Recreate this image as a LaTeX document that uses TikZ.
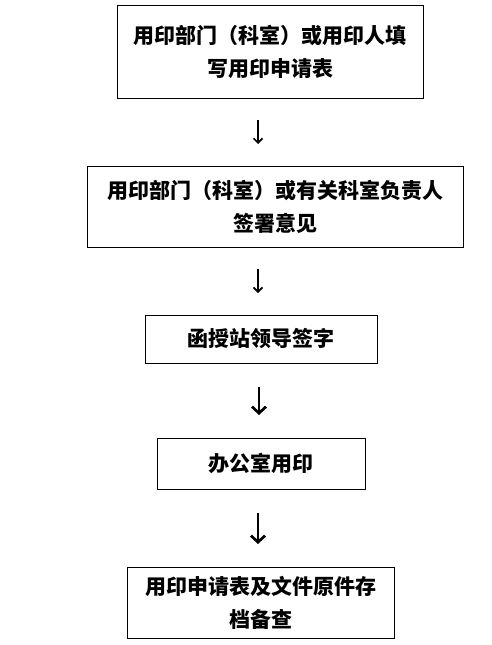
\documentclass[tikz,border=0pt]{standalone}
\usepackage{fontspec}
\newfontfamily\cjk{Noto Sans CJK SC}
\usetikzlibrary{arrows.meta, positioning}

\begin{document}
\begin{tikzpicture}[
    x=1pt, y=-1pt,
    stepbox/.style = {draw, line width=0.8pt, inner sep=0pt, align=center,
                font=\cjk\bfseries\fontsize{21}{33}\selectfont},
    thin arr/.style = {line width=1.7pt, -{Straight Barb[length=4.5pt, width=9pt]}},
    bold arr/.style = {line width=2.7pt, -{Straight Barb[length=6.5pt, width=14pt]}}
                    ]
\useasboundingbox (0,0) rectangle (492,645);

\node (n1) [stepbox, minimum width=306pt, minimum height=93pt] at (270,51.5)
    {用印部门（科室）或用印人填\\ 写用印申请表};
\node (n2) [stepbox, minimum width=376pt, minimum height=81pt] at (275,206.5)
    {用印部门（科室）或有关科室负责人\\ 签署意见};
\node (n3) [stepbox, minimum width=232pt, minimum height=48pt] at (261,339)
    {函授站领导签字};
\node (n4) [stepbox, minimum width=208pt, minimum height=51pt] at (261,463.5)
    {办公室用印};
\node (n5) [stepbox, minimum width=267pt, minimum height=71pt] at (260.5,602.5)
    {用印申请表及文件原件存\\ 档备查};

%arrows stand free between the boxes
\coordinate (a1) at (258,120);  \coordinate (a1e) at (258,144);
\coordinate (a2) at (258,269);  \coordinate (a2e) at (258,293);
\coordinate (a3) at (259,387);  \coordinate (a3e) at (259,415);
\coordinate (a4) at (258,513);  \coordinate (a4e) at (258,544);

\draw[thin arr] (a1) -- (a1e);
\draw[thin arr] (a2) -- (a2e);
\draw[bold arr] (a3) -- (a3e);
\draw[bold arr] (a4) -- (a4e);

\end{tikzpicture}
\end{document}
